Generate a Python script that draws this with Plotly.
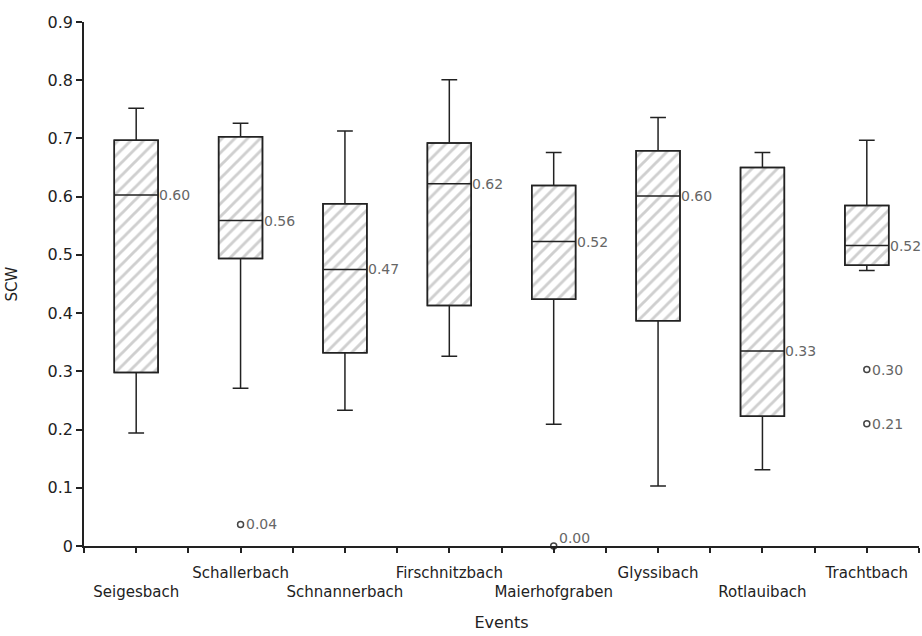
import plotly.graph_objects as go

categories = ["Seigesbach", "Schallerbach", "Schnannerbach", "Firschnitzbach",
              "Maierhofgraben", "Glyssibach", "Rotlauibach", "Trachtbach"]
upper = [0.752, 0.726, 0.713, 0.801, 0.676, 0.736, 0.676, 0.697]
q3 = [0.697, 0.703, 0.588, 0.692, 0.619, 0.679, 0.650, 0.585]
median = [0.603, 0.559, 0.475, 0.622, 0.523, 0.601, 0.335, 0.516]
q1 = [0.298, 0.494, 0.332, 0.413, 0.424, 0.387, 0.223, 0.482]
lower = [0.194, 0.271, 0.233, 0.326, 0.209, 0.103, 0.131, 0.473]
median_labels = ["0.60", "0.56", "0.47", "0.62", "0.52", "0.60", "0.33", "0.52"]

outlier_cat = ["Schallerbach", "Maierhofgraben", "Trachtbach", "Trachtbach"]
outlier_val = [0.037, 0.0, 0.303, 0.21]
outlier_labels = ["0.04", "0.00", "0.30", "0.21"]

y_ticks = [0, 0.1, 0.2, 0.3, 0.4, 0.5, 0.6, 0.7, 0.8, 0.9]

FONT = "DejaVu Sans, sans-serif"
INK = "#222222"
LABEL = "#666666"

xs = list(range(len(categories)))
ox = [categories.index(c) for c in outlier_cat]
BOXW = 0.42

fig = go.Figure()

fig.add_trace(go.Bar(
    x=xs, y=[b - a for a, b in zip(q1, q3)], base=q1, width=BOXW,
    marker=dict(color="white",
                pattern=dict(shape="/", fgcolor="#a0a0a0", bgcolor="white",
                             size=9, solidity=0.32),
                line=dict(color=INK, width=1.5)),
    hoverinfo="skip", showlegend=False,
))

fig.add_trace(go.Box(
    x=xs, q1=q1, median=median, q3=q3, lowerfence=lower, upperfence=upper,
    orientation="v", width=BOXW, whiskerwidth=0.36, boxpoints=False,
    fillcolor="rgba(0,0,0,0)", line=dict(color=INK, width=1.5),
    showlegend=False,
))

fig.add_trace(go.Scatter(
    x=ox, y=outlier_val, mode="markers",
    marker=dict(symbol="circle-open", size=6, color="#444444",
                line=dict(width=1.5, color="#444444")),
    cliponaxis=False, showlegend=False,
))

for i, lab in enumerate(median_labels):
    fig.add_annotation(x=xs[i], y=median[i], text=lab, showarrow=False,
                       xanchor="left", yanchor="middle", xshift=21,
                       font=dict(family=FONT, size=14, color=LABEL))

for i, lab in enumerate(outlier_labels):
    fig.add_annotation(x=ox[i], y=outlier_val[i], text=lab, showarrow=False,
                       xanchor="left", yanchor="middle", xshift=3,
                       yshift=(8 if outlier_val[i] == 0 else 0),
                       font=dict(family=FONT, size=14, color=LABEL))

ticktext = [("<br>" + c) if i % 2 == 0 else c for i, c in enumerate(categories)]

fig.update_layout(
    width=922, height=636,
    margin=dict(l=84, r=3, t=22, b=90),
    paper_bgcolor="white", plot_bgcolor="white",
    barmode="overlay", boxmode="overlay",
    font=dict(family=FONT, size=15, color=INK),
    xaxis=dict(
        range=[-0.5, len(categories) - 0.5], tickvals=xs, ticktext=ticktext,
        tickangle=0, automargin=False, ticklabelstandoff=7,
        ticks="outside", ticklen=5, tickwidth=1.5, tickcolor=INK,
        minor=dict(tick0=-0.5, dtick=1, ticks="outside", ticklen=5,
                   tickwidth=1.5, tickcolor=INK),
        showline=True, linecolor=INK, linewidth=1.5,
        showgrid=False, zeroline=False,
        tickfont=dict(family=FONT, size=15, color=INK),
        title=dict(text="Events", standoff=17,
                   font=dict(family=FONT, size=16, color=INK)),
    ),
    xaxis2=dict(
        overlaying="x", anchor="y", matches="x", side="bottom",
        tickvals=[x - 0.5 for x in xs] + [len(categories) - 0.5],
        ticks="inside", ticklen=5, tickwidth=1.5, tickcolor=INK,
        showticklabels=False, showline=False, showgrid=False, zeroline=False,
    ),
    yaxis=dict(
        range=[0, 0.9], tickvals=y_ticks, automargin=False,
        ticks="outside", ticklen=6, tickwidth=1.5, tickcolor=INK,
        showline=True, linecolor=INK, linewidth=1.5,
        showgrid=False, zeroline=False,
        tickfont=dict(family=FONT, size=16, color=INK),
        title=dict(text="SCW", standoff=26,
                   font=dict(family=FONT, size=15, color=INK)),
    ),
)

fig.write_html(
    "out.html",
    config={"displayModeBar": False},
    post_script="document.body.style.margin='0';document.body.style.overflow='hidden';",
)
